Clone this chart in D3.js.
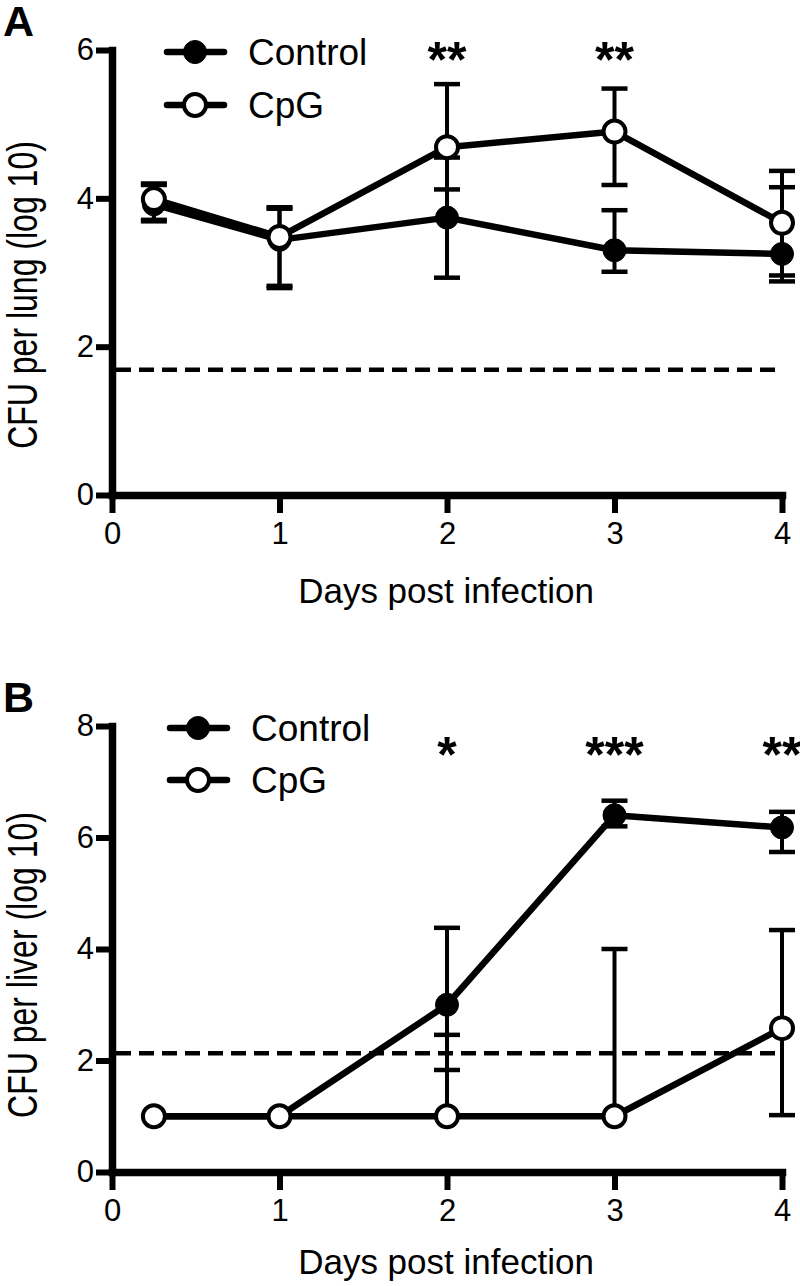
<!DOCTYPE html>
<html>
<head>
<meta charset="utf-8">
<script src="https://cdn.jsdelivr.net/npm/d3@7"></script>
<style>
  html, body { margin: 0; padding: 0; background: #fff; }
  svg { display: block; }
  text { font-family: "Liberation Sans", Arial, sans-serif; fill: #000; }
</style>
</head>
<body>
<svg id="chart" width="800" height="1286"></svg>
<script>
// ---------- data ----------
const days = [0.25, 1, 2, 3, 4];
const xTicks = [0, 1, 2, 3, 4];
const seriesNames = ["Control", "CpG"];

// Panel A: lung
const lungControl   = [3.92, 3.44, 3.74, 3.30, 3.25];
const lungControlHi = [4.18, 3.86, 4.55, 3.84, 4.15];
const lungControlLo = [3.69, 2.79, 2.93, 3.01, 2.88];
const lungCpG       = [3.99, 3.48, 4.69, 4.90, 3.67];
const lungCpGHi     = [4.20, 3.88, 5.54, 5.48, 4.37];
const lungCpGLo     = [3.71, 2.82, 4.12, 4.18, 2.96];
const lungLimit = 1.69;
const lungStars = ["", "", "**", "**", ""];
const lungYTicks = [0, 2, 4, 6];

// Panel B: liver
const liverControl   = [1, 1, 3.00, 6.40, 6.18];
const liverControlHi = [1, 1, 4.38, 6.66, 6.46];
const liverControlLo = [1, 1, 1.83, 6.20, 5.74];
const liverCpG       = [1, 1, 1, 1, 2.58];
const liverCpGHi     = [1, 1, 2.46, 4.00, 4.34];
const liverCpGLo     = [1, 1, 1, 1, 1.02];
const liverLimit = 2.13;
const liverStars = ["", "", "*", "***", "**"];
const liverYTicks = [0, 2, 4, 6, 8];

// ---------- drawing ----------
const svg = d3.select("#chart");
const x = d3.scaleLinear().domain([0, 4]).range([112, 782]);

function panel(cfg) {
  const y = d3.scaleLinear().domain(cfg.yDomain).range(cfg.yRange);
  const g = svg.append("g");

  // panel letter
  g.append("text").attr("x", 3).attr("y", cfg.letterY)
    .attr("font-size", 43).attr("font-weight", "bold").text(cfg.letter);

  // y axis
  const ya = g.append("g").attr("transform", `translate(${x(0)},0)`)
    .call(d3.axisLeft(y).tickValues(cfg.yTicks).tickSize(16).tickSizeOuter(0).tickPadding(2).tickFormat(d3.format("d")));
  // x axis
  const xa = g.append("g").attr("transform", `translate(0,${y(0)})`)
    .call(d3.axisBottom(x).tickValues(xTicks).tickSize(18).tickSizeOuter(0).tickPadding(9).tickFormat(d3.format("d")));
  [ya, xa].forEach(a => {
    a.select(".domain").attr("stroke", "#000").attr("stroke-width", 7.5).attr("stroke-linecap", "square");
    a.selectAll(".tick line").attr("stroke", "#000").attr("stroke-width", 6);
    a.selectAll(".tick text").attr("font-size", 31).attr("fill", "#000")
      .style("font-family", '"Liberation Sans", Arial, sans-serif');
  });

  // axis titles
  g.append("text")
    .attr("transform", `translate(${cfg.yLabelX},${cfg.yLabelY}) rotate(-90) scale(1,1.3)`)
    .attr("text-anchor", "middle").attr("font-size", 32).text(cfg.yLabel);
  g.append("text").attr("x", 446).attr("y", cfg.xLabelY)
    .attr("text-anchor", "middle").attr("font-size", 35).text("Days post infection");

  // detection limit
  g.append("line").attr("x1", x(0) + 4).attr("x2", x(4) - 2)
    .attr("y1", y(cfg.limit)).attr("y2", y(cfg.limit))
    .attr("stroke", "#000").attr("stroke-width", 4.5).attr("stroke-dasharray", "15,8");

  const line = d3.line().x((d, i) => x(days[i])).y(d => y(d));

  function drawSeries(vals, hi, lo, open) {
    const eb = g.append("g").attr("stroke", "#000").attr("stroke-width", 4);
    days.forEach((d, i) => {
      if (hi[i] === vals[i] && lo[i] === vals[i]) return;
      eb.append("line").attr("x1", x(d)).attr("x2", x(d)).attr("y1", y(hi[i])).attr("y2", y(lo[i]));
      if (hi[i] !== vals[i]) eb.append("line").attr("x1", x(d) - 13).attr("x2", x(d) + 13).attr("y1", y(hi[i])).attr("y2", y(hi[i])).attr("stroke-width", 4.5);
      if (lo[i] !== vals[i]) eb.append("line").attr("x1", x(d) - 13).attr("x2", x(d) + 13).attr("y1", y(lo[i])).attr("y2", y(lo[i])).attr("stroke-width", 4.5);
    });
    g.append("path").datum(vals).attr("d", line).attr("fill", "none")
      .attr("stroke", "#000").attr("stroke-width", 6.5).attr("stroke-linejoin", "round");
    g.selectAll(null).data(vals).enter().append("circle")
      .attr("cx", (d, i) => x(days[i])).attr("cy", d => y(d))
      .attr("r", open ? 11 : 11.5)
      .attr("fill", open ? "#fff" : "#000")
      .attr("stroke", "#000").attr("stroke-width", open ? 4 : 1);
  }
  drawSeries(cfg.ctrl, cfg.ctrlHi, cfg.ctrlLo, false);
  drawSeries(cfg.cpg, cfg.cpgHi, cfg.cpgLo, true);

  // significance stars
  days.forEach((d, i) => {
    if (!cfg.stars[i]) return;
    g.append("text").attr("x", x(d)).attr("y", cfg.starY)
      .attr("text-anchor", "middle").attr("font-size", 50).attr("font-weight", "bold")
      .text(cfg.stars[i]);
  });

  // legend
  seriesNames.forEach((name, k) => {
    const ly = cfg.legendY[k];
    g.append("line").attr("x1", cfg.legendX).attr("x2", cfg.legendX + 57)
      .attr("y1", ly).attr("y2", ly).attr("stroke", "#000").attr("stroke-width", 6.5).attr("stroke-linecap", "round");
    g.append("circle").attr("cx", cfg.legendX + 28).attr("cy", ly)
      .attr("r", k === 0 ? 11.5 : 11).attr("fill", k === 0 ? "#000" : "#fff")
      .attr("stroke", "#000").attr("stroke-width", k === 0 ? 1 : 4);
    g.append("text").attr("x", cfg.legendX + 81).attr("y", ly + 13)
      .attr("font-size", 37).text(name);
  });
}

panel({
  letter: "A", letterY: 36,
  yDomain: [0, 6], yRange: [495, 50], yTicks: lungYTicks,
  yLabel: "CFU per lung (log 10)", yLabelX: 37, yLabelY: 295, xLabelY: 603,
  limit: lungLimit, stars: lungStars, starY: 77,
  ctrl: lungControl, ctrlHi: lungControlHi, ctrlLo: lungControlLo,
  cpg: lungCpG, cpgHi: lungCpGHi, cpgLo: lungCpGLo,
  legendX: 167, legendY: [52, 105]
});

panel({
  letter: "B", letterY: 712,
  yDomain: [0, 8], yRange: [1172, 726], yTicks: liverYTicks,
  yLabel: "CFU per liver (log 10)", yLabelX: 37, yLabelY: 965, xLabelY: 1274,
  limit: liverLimit, stars: liverStars, starY: 772,
  ctrl: liverControl, ctrlHi: liverControlHi, ctrlLo: liverControlLo,
  cpg: liverCpG, cpgHi: liverCpGHi, cpgLo: liverCpGLo,
  legendX: 170, legendY: [728, 780]
});
</script>
</body>
</html>
